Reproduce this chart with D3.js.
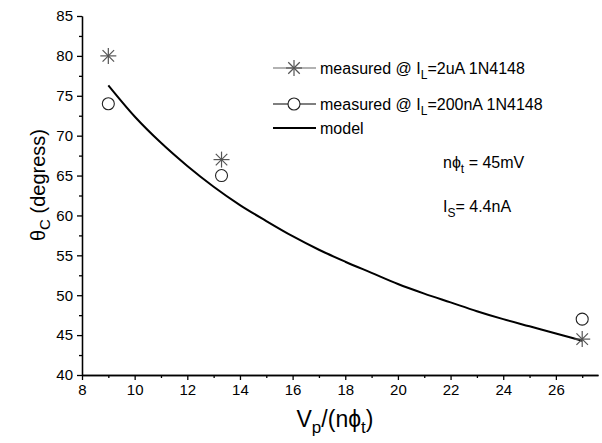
<!DOCTYPE html>
<head>
    <meta charset="utf-8">
    <title>Theta vs Vp</title>
    <script src="https://d3js.org/d3.v7.min.js"></script>
    <style>
        body { margin: 0; background: #fff; }
        svg { font-family: "Liberation Sans", Arial, sans-serif; }
        .axis path, .axis line { stroke: #000; stroke-width: 1.3; }
        .axis text { font-size: 15px; fill: #000; }
    </style>
</head>
<body>
    <div id="container"></div>
    <script>
        //------------------------DATA------------------------//
        var measX = [9, 13.3, 27];
        var meas2uA = [80, 67, 44.5];
        var meas200nA = [74, 65, 47];
        var modelX = [9, 10, 11, 12, 13, 14, 15, 16, 17, 18, 19, 20, 21, 22, 23, 24, 25, 26, 27];
        var modelY = [76.3, 72.4, 69.1, 66.2, 63.6, 61.3, 59.3, 57.4, 55.7, 54.2, 52.8, 51.4, 50.2, 49.1, 48.0, 47.0, 46.1, 45.2, 44.3];
        var xTicks = [8, 10, 12, 14, 16, 18, 20, 22, 24, 26];
        var yTicks = [40, 45, 50, 55, 60, 65, 70, 75, 80, 85];

        //------------------------SVG------------------------//
        var W = 602, H = 443;
        var margin = { top: 16, right: 4, bottom: 68, left: 82 };
        var svg = d3.select("#container").append("svg").attr("width", W).attr("height", H);

        var x = d3.scaleLinear().domain([8, 27.6]).range([margin.left, W - margin.right]);
        var y = d3.scaleLinear().domain([40, 85]).range([H - margin.bottom, margin.top]);

        // minor ticks
        var xMinor = d3.range(9, 28, 2);
        var yMinor = d3.range(42.5, 85, 5);

        svg.append("g").attr("class", "axis")
            .attr("transform", "translate(0," + y(40) + ")")
            .call(d3.axisBottom(x).tickValues(xMinor).tickSize(3).tickFormat("").tickSizeOuter(0));
        svg.append("g").attr("class", "axis")
            .attr("transform", "translate(0," + y(40) + ")")
            .call(d3.axisBottom(x).tickValues(xTicks).tickSize(5).tickSizeOuter(0).tickPadding(4).tickFormat(d3.format("d")));

        svg.append("g").attr("class", "axis")
            .attr("transform", "translate(" + x(8) + ",0)")
            .call(d3.axisLeft(y).tickValues(yMinor).tickSize(3).tickFormat("").tickSizeOuter(0));
        svg.append("g").attr("class", "axis")
            .attr("transform", "translate(" + x(8) + ",0)")
            .call(d3.axisLeft(y).tickValues(yTicks).tickSize(5).tickSizeOuter(0).tickPadding(4).tickFormat(d3.format("d")));

        //------------------------MODEL------------------------//
        var line = d3.line().curve(d3.curveMonotoneX)
            .x(function (d, i) { return x(modelX[i]); })
            .y(function (d) { return y(d); });
        svg.append("path").datum(modelY)
            .attr("d", line)
            .attr("fill", "none").attr("stroke", "#000").attr("stroke-width", 2);

        //------------------------MARKERS------------------------//
        function star(g, cx, cy, r) {
            var s = g.append("g").attr("transform", "translate(" + cx + "," + cy + ")")
                .attr("stroke", "#555").attr("stroke-width", 1.2);
            s.append("line").attr("x1", -r).attr("x2", r).attr("y1", 0).attr("y2", 0);
            s.append("line").attr("x1", 0).attr("x2", 0).attr("y1", -r).attr("y2", r);
            var k = r * 0.72;
            s.append("line").attr("x1", -k).attr("x2", k).attr("y1", -k).attr("y2", k);
            s.append("line").attr("x1", -k).attr("x2", k).attr("y1", k).attr("y2", -k);
        }
        function circ(g, cx, cy, r) {
            g.append("circle").attr("cx", cx).attr("cy", cy).attr("r", r)
                .attr("fill", "#fff").attr("stroke", "#222").attr("stroke-width", 1.1);
        }

        var pts = svg.append("g");
        measX.forEach(function (v, i) {
            star(pts, x(v), y(meas2uA[i]), 8);
            circ(pts, x(v), y(meas200nA[i]), 6);
        });

        //------------------------LEGEND------------------------//
        var lg = svg.append("g");
        var rows = [68, 104, 128];
        lg.append("line").attr("x1", 273).attr("x2", 316).attr("y1", rows[0]).attr("y2", rows[0])
            .attr("stroke", "#666").attr("stroke-width", 1.2);
        star(lg, 294, rows[0], 8);
        lg.append("line").attr("x1", 273).attr("x2", 316).attr("y1", rows[1]).attr("y2", rows[1])
            .attr("stroke", "#000").attr("stroke-width", 1.2);
        circ(lg, 294, rows[1], 6);
        lg.append("line").attr("x1", 273).attr("x2", 316).attr("y1", rows[2]).attr("y2", rows[2])
            .attr("stroke", "#000").attr("stroke-width", 2);

        var lt = lg.append("g").style("font-size", "16px");
        var t1 = lt.append("text").attr("x", 320).attr("y", rows[0] + 6);
        t1.append("tspan").text("measured @ I");
        t1.append("tspan").attr("dy", 5).style("font-size", "12px").text("L");
        t1.append("tspan").attr("dy", -5).text("=2uA 1N4148");
        var t2 = lt.append("text").attr("x", 320).attr("y", rows[1] + 6);
        t2.append("tspan").text("measured @ I");
        t2.append("tspan").attr("dy", 5).style("font-size", "12px").text("L");
        t2.append("tspan").attr("dy", -5).text("=200nA 1N4148");
        lt.append("text").attr("x", 320).attr("y", rows[2] + 6).text("model");

        //------------------------ANNOTATIONS------------------------//
        var a1 = svg.append("text").attr("x", 443).attr("y", 168).style("font-size", "16px");
        a1.append("tspan").text("n\u03D5");
        a1.append("tspan").attr("dy", 5).style("font-size", "12px").text("t");
        a1.append("tspan").attr("dy", -5).text(" = 45mV");
        var a2 = svg.append("text").attr("x", 443).attr("y", 212).style("font-size", "16px");
        a2.append("tspan").text("I");
        a2.append("tspan").attr("dy", 5).style("font-size", "12px").text("S");
        a2.append("tspan").attr("dy", -5).text("= 4.4nA");

        //------------------------AXIS TITLES------------------------//
        var xt = svg.append("text").attr("x", 335).attr("y", 427)
            .attr("text-anchor", "middle").style("font-size", "23px");
        xt.append("tspan").text("V");
        xt.append("tspan").attr("dy", 6).style("font-size", "17px").text("p");
        xt.append("tspan").attr("dy", -6).text("/(n\u03D5");
        xt.append("tspan").attr("dy", 6).style("font-size", "17px").text("t");
        xt.append("tspan").attr("dy", -6).text(")");

        var yt = svg.append("text").attr("transform", "translate(45,185) rotate(-90)")
            .attr("text-anchor", "middle").style("font-size", "20px");
        yt.append("tspan").text("\u03B8");
        yt.append("tspan").attr("dy", 5).style("font-size", "15px").text("C");
        yt.append("tspan").attr("dy", -5).text(" (degress)");
    </script>
</body>
